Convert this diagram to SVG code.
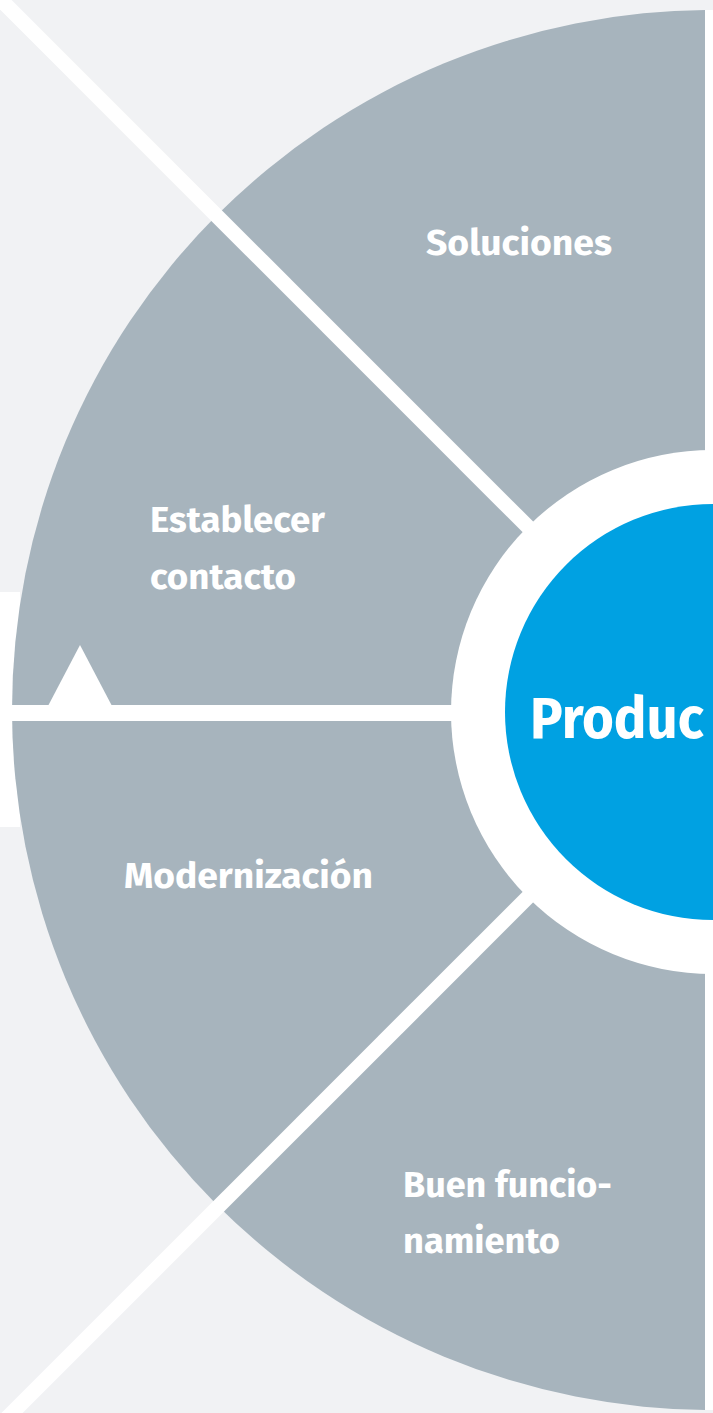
<svg xmlns="http://www.w3.org/2000/svg" width="713" height="1413" viewBox="0 0 713 1413">
  <defs>
    <style>
      .lbl { font-family: "Fira Sans", "Open Sans", "Noto Sans", "Liberation Sans", sans-serif; font-weight: 700; fill: #ffffff; font-size: 36px; }
      .big { font-size: 58px; }
      .div { stroke: #ffffff; stroke-width: 15; fill: none; }
    </style>
    <clipPath id="clipRight">
      <rect x="0" y="0" width="705" height="1413"/>
    </clipPath>
  </defs>
  <rect x="0" y="0" width="713" height="1413" fill="#f1f2f4"/>
  <rect x="0" y="592" width="20" height="235" fill="#ffffff"/>
  <rect x="705" y="10" width="8" height="1400" fill="#ffffff"/>

  <g id="disc">
    <circle cx="712" cy="710" r="700" fill="#a7b4bd" clip-path="url(#clipRight)"/>
  </g>

  <g id="connectors">
    <line class="div" x1="-5" y1="-6" x2="713" y2="712"/>
    <line class="div" x1="713" y1="712" x2="-5" y2="1430"/>
    <rect x="10" y="705" width="460" height="16" fill="#ffffff"/>
    <polygon points="48,706 80,645 112,706" fill="#ffffff"/>
  </g>

  <g id="center">
    <circle cx="713" cy="712" r="262" fill="#ffffff"/>
    <circle cx="713" cy="712" r="208" fill="#00a1e2"/>
    <text class="lbl big" x="530" y="738" textLength="174" lengthAdjust="spacingAndGlyphs">Produc</text>
  </g>

  <g id="soluciones">
    <text class="lbl" x="426" y="255" textLength="186" lengthAdjust="spacingAndGlyphs">Soluciones</text>
  </g>
  <g id="establecer-contacto">
    <text class="lbl" x="150" y="532" textLength="175" lengthAdjust="spacingAndGlyphs">Establecer</text>
    <text class="lbl" x="150" y="589" textLength="146" lengthAdjust="spacingAndGlyphs">contacto</text>
  </g>
  <g id="modernizacion">
    <text class="lbl" x="124" y="888" textLength="249" lengthAdjust="spacingAndGlyphs">Modernización</text>
  </g>
  <g id="buen-funcionamiento">
    <text class="lbl" x="403" y="1197" textLength="209" lengthAdjust="spacingAndGlyphs">Buen funcio-</text>
    <text class="lbl" x="403" y="1253" textLength="157" lengthAdjust="spacingAndGlyphs">namiento</text>
  </g>
</svg>
